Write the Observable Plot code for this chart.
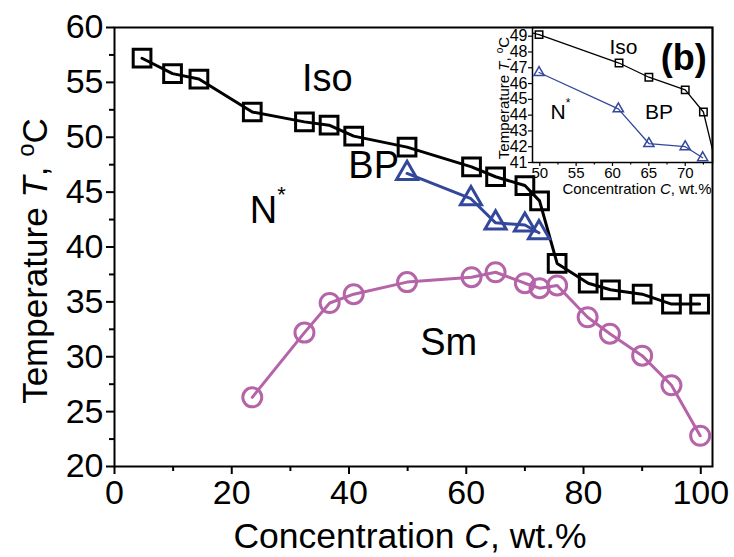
<!DOCTYPE html>
<html><head><meta charset="utf-8">
<script src="https://cdn.jsdelivr.net/npm/d3@7"></script>
<script src="https://cdn.jsdelivr.net/npm/@observablehq/plot@0.6"></script>
<style>
body{margin:0;background:#fff;}
#wrap{position:relative;width:734px;height:557px;font-family:"Liberation Sans",Arial,sans-serif;}
#main{position:absolute;left:0;top:0;}
#inset{position:absolute;left:470px;top:0;}
svg{font-family:"Liberation Sans",Arial,sans-serif;overflow:visible;}
</style></head><body><div id="wrap"><div id="main"></div><div id="inset"></div></div>
<script>
// Iso (clearing) temperature, squares
const isoC = [4.7, 9.9, 14.4, 23.5, 32.4, 36.6, 40.8, 49.9, 60.9, 65, 70, 72.5, 75.5, 80.8, 84.6, 90, 95, 99.8];
const isoT = [57.2, 55.8, 55.3, 52.3, 51.4, 51.1, 50.1, 49.1, 47.3, 46.4, 45.6, 44.2, 38.5, 36.7, 36.1, 35.7, 34.8, 34.8];
// Blue phase, triangles
const bpC = [49.9, 60.8, 65, 70, 72.4];
const bpT = [46.7, 44.4, 42.2, 42.0, 41.3];
// Smectic, circles
const smC = [23.5, 32.4, 36.7, 40.8, 49.9, 60.9, 65, 70, 72.5, 75.5, 80.7, 84.5, 90, 95, 99.9];
const smT = [26.3, 32.2, 34.9, 35.7, 36.8, 37.25, 37.7, 36.7, 36.25, 36.5, 33.6, 32.1, 30.1, 27.4, 22.8];
// ticks
const xTicks = [0, 20, 40, 60, 80, 100];
const xMinor = [10, 30, 50, 70, 90];
const yTicks = [20, 25, 30, 35, 40, 45, 50, 55, 60];
const yMinor = [22.5, 27.5, 32.5, 37.5, 42.5, 47.5, 52.5, 57.5];
const insetXTicks = [50, 55, 60, 65, 70];
const insetXMinor = [52.5, 57.5, 62.5, 67.5, 72.5];
const insetYTicks = [41, 42, 43, 44, 45, 46, 47, 48, 49];
// region labels
const phaseText = ["Iso", "BP", "N", "Sm"];
const phaseX = [36.3, 44.2, 25.4, 57];
const phaseY = [55.3, 47.4, 43.3, 31.3];
const insetText = ["Iso", "N", "BP"];
const insetTX = [61.5, 52.5, 66.4];
const insetTY = [48.3, 44.2, 44.2];

const iso = isoC.map((c, i) => ({c, t: isoT[i]}));
const bp = bpC.map((c, i) => ({c, t: bpT[i]}));
const sm = smC.map((c, i) => ({c, t: smT[i]}));
const BLUE = "#33479b", PINK = "#b564a8";

const main = Plot.plot({
  width: 734, height: 557,
  marginLeft: 114, marginRight: 22, marginTop: 27, marginBottom: 91,
  x: {domain: [0, 102], label: null},
  y: {domain: [20, 60], label: null},
  style: {fontFamily: "Liberation Sans, Arial, sans-serif", color: "#000"},
  marks: [
    Plot.axisX({ticks: xTicks, tickSize: 8, tickPadding: 5, fontSize: 34, strokeWidth: 2, label: null}),
    Plot.axisX({ticks: xMinor, tickSize: 5, tickFormat: () => "", strokeWidth: 2, label: null}),
    Plot.axisY({ticks: yTicks, tickSize: 8, tickPadding: 3, fontSize: 34, strokeWidth: 2, label: null}),
    Plot.axisY({ticks: yMinor, tickSize: 5, tickFormat: () => "", strokeWidth: 2, label: null}),
    Plot.frame({stroke: "#000", strokeWidth: 2}),
    Plot.line(iso, {x: "c", y: "t", stroke: "#000", strokeWidth: 3}),
    Plot.line(bp, {x: "c", y: "t", stroke: BLUE, strokeWidth: 3}),
    Plot.line(sm, {x: "c", y: "t", stroke: PINK, strokeWidth: 3}),
    Plot.dot(iso, {x: "c", y: "t", symbol: "square", r: 10, stroke: "#000", strokeWidth: 3, fill: "none"}),
    Plot.dot(bp, {x: "c", y: "t", symbol: "triangle", r: 7.8, stroke: BLUE, strokeWidth: 3, fill: "none"}),
    Plot.dot(sm, {x: "c", y: "t", symbol: "circle", r: 9.5, stroke: PINK, strokeWidth: 3, fill: "none"}),
    Plot.text(phaseText, {x: (d, i) => phaseX[i], y: (d, i) => phaseY[i], text: d => d, fontSize: 38, fill: "#000"}),
    Plot.text(["*"], {x: [phaseX[2]], y: [phaseY[2]], text: d => d, dx: 18, dy: -16, fontSize: 22, fill: "#000"})
  ]
});
document.getElementById("main").appendChild(main);

const ms = d3.select(main);
ms.append("text")
  .attr("x", 410).attr("y", 548).attr("text-anchor", "middle")
  .attr("font-size", 35.5).attr("fill", "#000")
  .call(t => {
    t.append("tspan").text("Concentration ");
    t.append("tspan").attr("font-style", "italic").text("C");
    t.append("tspan").text(", wt.%");
  });
ms.append("text")
  .attr("transform", "translate(47,261) rotate(-90)").attr("text-anchor", "middle")
  .attr("font-size", 35).attr("fill", "#000")
  .call(t => {
    t.append("tspan").text("Temperature ");
    t.append("tspan").attr("font-style", "italic").text("T");
    t.append("tspan").text(", ");
    t.append("tspan").attr("font-size", 24).attr("dy", -13).text("o");
    t.append("tspan").attr("dy", 13).text("C");
  });

const inset = Plot.plot({
  width: 264, height: 200,
  marginLeft: 62, marginRight: 22, marginTop: 27, marginBottom: 38,
  x: {domain: [49, 73.75], label: null},
  y: {domain: [41, 49.55], label: null},
  style: {fontFamily: "Liberation Sans, Arial, sans-serif", color: "#000", background: "transparent"},
  marks: [
    Plot.axisX({ticks: insetXTicks, tickSize: 4, tickPadding: 1, fontSize: 15, strokeWidth: 1.2, label: null}),
    Plot.axisX({ticks: insetXMinor, tickSize: 2.5, tickFormat: () => "", strokeWidth: 1.2, label: null}),
    Plot.axisY({ticks: insetYTicks, tickSize: 4, tickPadding: 1, fontSize: 16, strokeWidth: 1.2, label: null}),
    Plot.frame({stroke: "#000", strokeWidth: 1.5}),
    Plot.line(iso, {x: "c", y: "t", stroke: "#000", strokeWidth: 1.3, clip: true}),
    Plot.line(bp, {x: "c", y: "t", stroke: BLUE, strokeWidth: 1.3, clip: true}),
    Plot.dot(iso, {x: "c", y: "t", symbol: "square", r: 4.2, stroke: "#000", strokeWidth: 1.5, fill: "none", clip: true}),
    Plot.dot(bp, {x: "c", y: "t", symbol: "triangle", r: 3.8, stroke: BLUE, strokeWidth: 1.5, fill: "none", clip: true}),
    Plot.text(insetText, {x: (d, i) => insetTX[i], y: (d, i) => insetTY[i], text: d => d, fontSize: 21, fill: "#000"}),
    Plot.text(["*"], {x: [insetTX[1]], y: [insetTY[1]], text: d => d, dx: 10, dy: -9, fontSize: 12, fill: "#000"}),
    Plot.text(["(b)"], {x: [69.8], y: [47.6], text: d => d, fontSize: 36, fontWeight: "bold", fill: "#000"})
  ]
});
document.getElementById("inset").appendChild(inset);
const is = d3.select(inset);
is.append("text")
  .attr("x", 167).attr("y", 194).attr("text-anchor", "middle")
  .attr("font-size", 15).attr("fill", "#000")
  .call(t => {
    t.append("tspan").text("Concentration ");
    t.append("tspan").attr("font-style", "italic").text("C");
    t.append("tspan").text(", wt.%");
  });
is.append("text")
  .attr("transform", "translate(39,98) rotate(-90)").attr("text-anchor", "middle")
  .attr("font-size", 15).attr("fill", "#000")
  .call(t => {
    t.append("tspan").text("Temperature ");
    t.append("tspan").attr("font-style", "italic").text("T");
    t.append("tspan").text(", ");
    t.append("tspan").attr("font-size", 10).attr("dy", -6).text("o");
    t.append("tspan").attr("dy", 6).text("C");
  });
</script></body></html>
